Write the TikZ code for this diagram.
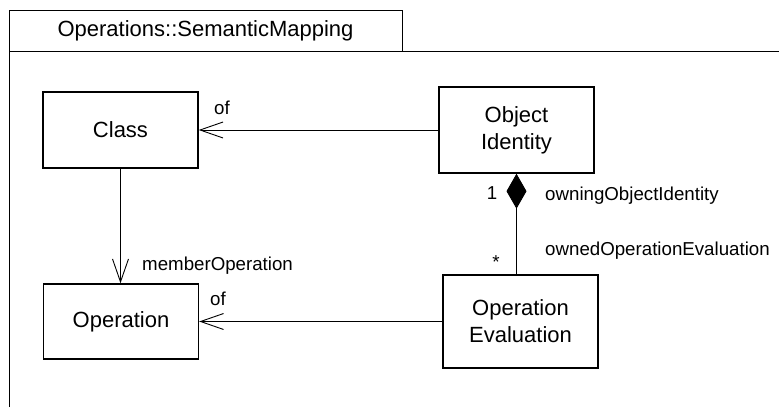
\documentclass[tikz,border=0pt]{standalone}
\usepackage{fontspec}
\setsansfont{Liberation Sans}
\usetikzlibrary{arrows.meta}

\begin{document}
\begin{tikzpicture}[x=1pt, y=-1pt, font=\sffamily\fontsize{22}{27}\selectfont,
    cls/.style={draw, line width=1.4pt, align=center, inner sep=0pt, minimum width=155pt},
    assoc/.style={line width=0.9pt, -{Straight Barb[length=23pt, width=16pt, line width=0.9pt]}},
    comp/.style={line width=0.9pt, {Diamond[length=35pt, width=20pt]}-},
    role/.style={font=\sffamily\fontsize{18.7}{22}\selectfont, inner sep=0pt, anchor=base west}]
  \useasboundingbox (0,0) rectangle (779,407);
  % package frame
  \draw[line width=1pt] (9,407) -- (9,10) -- (402,10) -- (402,51);
  \draw[line width=1pt] (9,51) -- (779,51);
  \node (pkg) at (205.5,30.5) {Operations::SemanticMapping};
  % classes
  \node[cls, minimum height=76pt] (class) at (120.5,130) {Class};
  \node[cls, minimum height=75pt] (operation) at (121,321.5) {Operation};
  \node[cls, minimum height=86pt] (objid) at (516.5,130) {Object\\Identity};
  \node[cls, minimum height=93pt] (opeval) at (520.5,321.5) {Operation\\Evaluation};
  % associations
  \draw[assoc] (objid.west) -- (class.east);
  \draw[assoc] (opeval.west) -- (operation.east);
  \draw[assoc] (class.south) -- (class.south |- operation.north);
  \draw[comp] (objid.south) -- (objid.south |- opeval.north);
  % ends
  \node[role] (ofclass) at (214,114) {of};
  \node[role] (ofop) at (210,305) {of};
  \node[role] (member) at (142,270) {memberOperation};
  \node[role, anchor=base] (one) at (492,199) {1};
  \node[role, anchor=base] (many) at (496,268) {*};
  \node[role] (owning) at (545,200) {owningObjectIdentity};
  \node[role] (owned) at (545,255) {ownedOperationEvaluation};
\end{tikzpicture}
\end{document}
